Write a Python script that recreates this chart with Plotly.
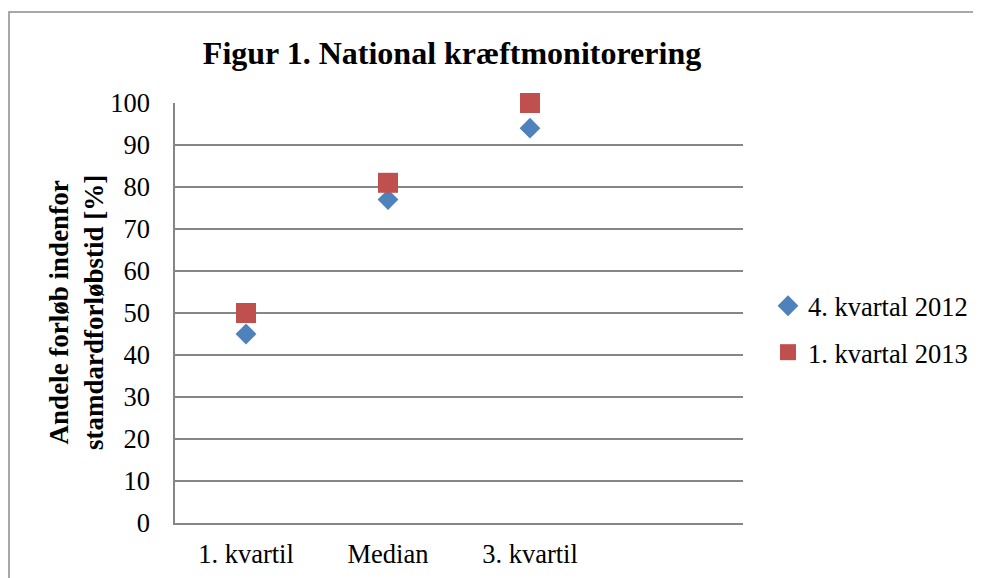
import plotly.graph_objects as go

categories = ["1. kvartil", "Median", "3. kvartil"]
series_names = ["4. kvartal 2012", "1. kvartal 2013"]
values_2012q4 = [45, 77, 94]
values_2013q1 = [50, 81, 100]
y_ticks = list(range(0, 101, 10))

W, H = 981, 578
OFF = 8  # default page body margin offset
L, T = 175 - OFF, 103 - OFF
pw, ph = 568, 420
R = W - L - pw
B = H - T - ph

serif = "Liberation Serif, Times New Roman, serif"
grid = "#868686"
fs = 26.5

fig = go.Figure()
fig.add_trace(go.Scatter(
    x=categories, y=values_2012q4, mode="markers", name=series_names[0],
    legendgroup="a", cliponaxis=False,
    marker=dict(symbol="diamond", size=16, color="#4F81BD"),
))
fig.add_trace(go.Scatter(
    x=categories, y=values_2013q1, mode="markers", name=series_names[1],
    legendgroup="b", cliponaxis=False,
    marker=dict(symbol="square", size=20, color="#C0504D"),
))

def px_x(p):
    return (p - OFF - L) / pw

def px_y(p):
    return 1 - (p - OFF - T) / ph

fig.update_layout(
    width=W, height=H,
    margin=dict(l=L, r=R, t=T, b=B),
    paper_bgcolor="white", plot_bgcolor="white",
    font=dict(family=serif, size=fs, color="black"),
    title=dict(text="<b>Figur 1. National kræftmonitorering</b>",
               x=(452 - OFF) / W, xanchor="center", y=1 - (53 - OFF) / H, yanchor="middle",
               font=dict(size=32, family=serif, color="black")),
    showlegend=True,
    legend=dict(x=px_x(768), y=px_y(282),
                xanchor="left", yanchor="top", traceorder="grouped",
                font=dict(size=fs, family=serif), tracegroupgap=9,
                itemwidth=30, bgcolor="rgba(0,0,0,0)"),
    xaxis=dict(type="category", categoryarray=categories + [" "],
               range=[-0.5, 3.5], showgrid=False, showline=True,
               linecolor=grid, linewidth=1.5, ticks="", zeroline=False,
               ticklabelstandoff=6,
               tickfont=dict(size=fs, family=serif)),
    yaxis=dict(range=[0, 100], tickvals=y_ticks, showgrid=True,
               gridcolor=grid, gridwidth=1.5, showline=True, linecolor=grid,
               linewidth=1.5, ticks="", zeroline=False,
               ticklabelstandoff=18,
               tickfont=dict(size=fs, family=serif)),
    annotations=[dict(
        text="<b>Andele forløb indenfor<br>stamdardforløbstid [%]</b>",
        xref="paper", yref="paper", x=px_x(76), y=0.5,
        xanchor="center", yanchor="middle", textangle=-90, showarrow=False,
        font=dict(size=27, family=serif, color="black"))],
    shapes=[dict(type="rect", xref="paper", yref="paper",
                 x0=px_x(9), x1=px_x(W + 30),
                 y0=px_y(H + 30), y1=px_y(12),
                 line=dict(color="#8c8c8c", width=1.5))],
)

fig.write_html("out.html")
